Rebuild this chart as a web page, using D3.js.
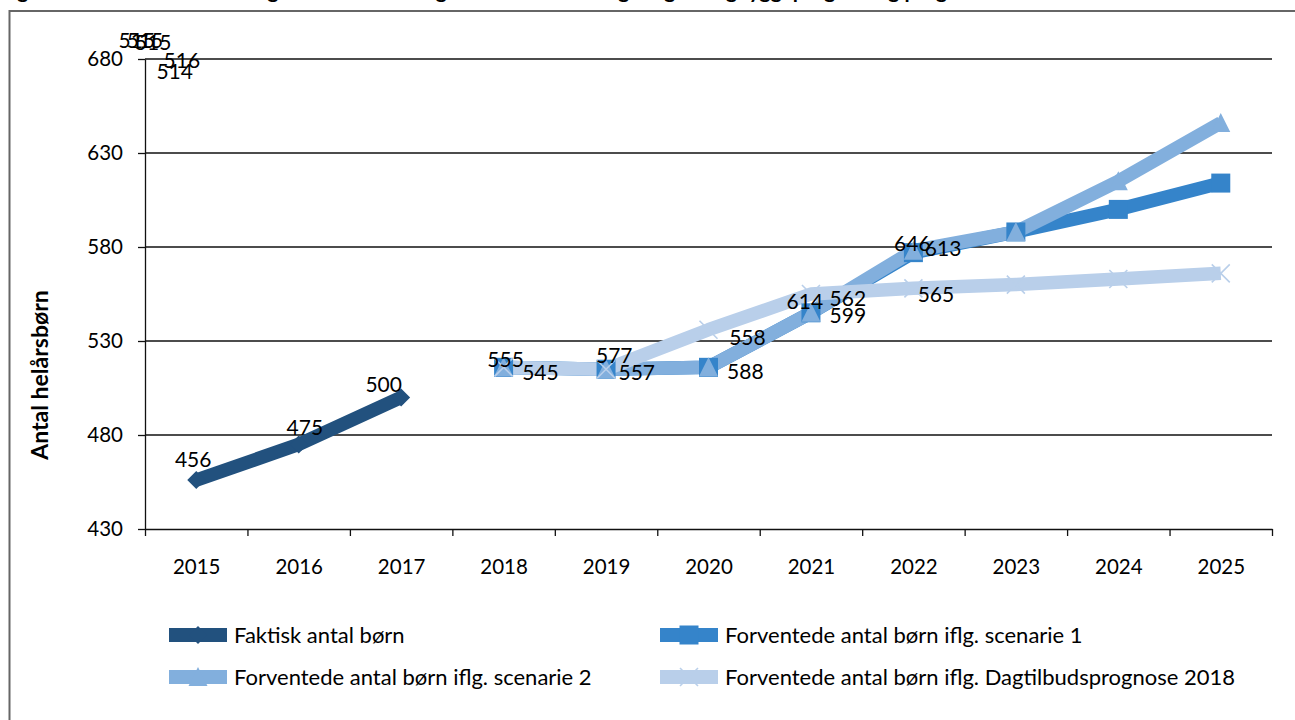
<!DOCTYPE html>
<html>
<head>
<meta charset="utf-8">
<script src="https://cdn.jsdelivr.net/npm/d3@7"></script>
<style>
	body { margin: 0; background: #fff; }
	svg { display: block; font-family: Lato, 'Open Sans', sans-serif; }
</style>
</head>
<body>
<script>
// data
var years = [2015, 2016, 2017, 2018, 2019, 2020, 2021, 2022, 2023, 2024, 2025];
var faktisk   = [456, 475, 500, null, null, null, null, null, null, null, null];
var scenarie1 = [null, null, null, 516, 515, 516, 545, 577, 588, 600, 614];
var scenarie2 = [null, null, null, 516, 515, 516, 545, 578, 588, 615, 646];
var dagtilbud = [null, null, null, 516, 515, 536, 555, 558, 560, 563, 566];
var yTicks = [430, 480, 530, 580, 630, 680];

// the data labels sit where the original chart left them (year, value units)
var labelText  = ['515', '515', '515', '516', '514', '456', '475', '500', '555', '545', '577', '557',
	'558', '588', '614', '562', '599', '646', '613', '565'];
var labelYear  = [2014.42, 2014.5, 2014.58, 2014.86, 2014.79, 2014.97, 2016.06, 2016.83, 2018.02, 2018.36,
	2019.08, 2019.3, 2020.38, 2020.36, 2020.94, 2021.36, 2021.36, 2021.99, 2022.29, 2022.22];
var labelValue = [689.5, 689.5, 688.5, 679, 673.5, 466.7, 483.7, 506.6, 519.9, 513, 522, 513,
	532, 513.5, 550.7, 552.3, 543.3, 582, 579, 554.5];

var seriesNames = ['Faktisk antal børn', 'Forventede antal børn iflg. scenarie 1',
	'Forventede antal børn iflg. scenarie 2', 'Forventede antal børn iflg. Dagtilbudsprognose 2018'];

var series = [
	{name: seriesNames[0], values: faktisk, color: '#22517e', marker: 'diamond'},
	{name: seriesNames[1], values: scenarie1, color: '#3584ca', marker: 'square'},
	{name: seriesNames[2], values: scenarie2, color: '#82afdd', marker: 'triangle'},
	{name: seriesNames[3], values: dagtilbud, color: '#b9cfea', marker: 'cross'}
];

var W = 1295, H = 720;
var plot = {left: 145, right: 1272, top: 59, bottom: 529};

var x = d3.scaleLinear().domain([2014.5, 2025.5]).range([plot.left, plot.right]),
	y = d3.scaleLinear().domain([430, 680]).range([plot.bottom, plot.top]);

var svg = d3.select('body').append('svg')
	.attr('width', W)
	.attr('height', H);

// title, cut off at the top of the picture
svg.append('text')
	.attr('x', 0)
	.attr('y', -2)
	.style('font-weight', 'bold')
	.style('font-size', '21px')
	.text('Figur 1: Antal helårsbørn i dagtilbud – faktisk og forventet udvikling ifølge boligbyggeprogram og prognose');

// frame
svg.append('rect')
	.attr('x', 9.5)
	.attr('y', 11)
	.attr('width', W + 50)
	.attr('height', H + 50)
	.style('fill', 'none')
	.style('stroke', '#666')
	.style('stroke-width', 2);

// gridlines
svg.append('g')
	.selectAll('line')
	.data(yTicks.slice(1))
	.enter().append('line')
		.attr('x1', plot.left)
		.attr('x2', plot.right)
		.attr('y1', function(d) { return y(d); })
		.attr('y2', function(d) { return y(d); })
		.style('stroke', '#111')
		.style('stroke-width', 1.3);

// y axis
var yAxis = svg.append('g')
	.attr('transform', 'translate(' + plot.left + ',0)')
	.call(d3.axisLeft(y).tickValues(yTicks).tickSize(7).tickPadding(15).tickSizeOuter(0));
yAxis.select('.domain').style('stroke', '#111').style('stroke-width', 1.3);
yAxis.selectAll('.tick line').style('stroke', '#111').style('stroke-width', 1.3);
yAxis.selectAll('text').style('font-size', '20.5px').style('font-family', 'Lato, sans-serif').attr('fill', '#000');

// x axis: ticks between categories, labels under them
var bounds = d3.range(2014.5, 2026, 1);
var xAxis = svg.append('g')
	.attr('transform', 'translate(0,' + plot.bottom + ')')
	.call(d3.axisBottom(x).tickValues(bounds).tickSize(7).tickFormat('').tickSizeOuter(0));
xAxis.select('.domain').style('stroke', '#111').style('stroke-width', 1.3);
xAxis.selectAll('.tick line').style('stroke', '#111').style('stroke-width', 1.3);

var xLabels = svg.append('g')
	.attr('transform', 'translate(0,' + plot.bottom + ')')
	.call(d3.axisBottom(x).tickValues(years).tickSize(0).tickPadding(30).tickFormat(d3.format('d')));
xLabels.select('.domain').remove();
xLabels.selectAll('text').style('font-size', '20.5px').style('font-family', 'Lato, sans-serif').attr('fill', '#000');

// y axis title
svg.append('text')
	.attr('transform', 'translate(48,375) rotate(-90)')
	.style('text-anchor', 'middle')
	.style('font-weight', 'bold')
	.style('font-size', '23px')
	.text('Antal helårsbørn');

// lines
var line = d3.line()
	.defined(function(d) { return d.v != null; })
	.x(function(d) { return x(d.year); })
	.y(function(d) { return y(d.v); });

function points(s) {
	return years.map(function(yr, i) { return {year: yr, v: s.values[i]}; });
}

var drawOrder = [series[1], series[2], series[3], series[0]];
drawOrder.forEach(function(s) {
	svg.append('path')
		.datum(points(s))
		.attr('d', line)
		.style('fill', 'none')
		.style('stroke', s.color)
		.style('stroke-width', 13.5)
		.style('stroke-linejoin', 'round');
});

function drawMarker(g, kind, cx, cy, color) {
	if (kind === 'diamond') {
		g.append('path')
			.attr('d', 'M' + cx + ',' + (cy - 9) + 'L' + (cx + 9) + ',' + cy + 'L' + cx + ',' + (cy + 9) + 'L' + (cx - 9) + ',' + cy + 'Z')
			.style('fill', color);
	} else if (kind === 'square') {
		g.append('rect')
			.attr('x', cx - 9.5).attr('y', cy - 9.5)
			.attr('width', 19).attr('height', 19)
			.style('fill', color);
	} else if (kind === 'triangle') {
		g.append('path')
			.attr('d', 'M' + cx + ',' + (cy - 10) + 'L' + (cx + 9.5) + ',' + (cy + 9) + 'L' + (cx - 9.5) + ',' + (cy + 9) + 'Z')
			.style('fill', color);
	} else {
		g.append('path')
			.attr('d', 'M' + (cx - 9) + ',' + (cy - 9) + 'L' + (cx + 9) + ',' + (cy + 9) + 'M' + (cx + 9) + ',' + (cy - 9) + 'L' + (cx - 9) + ',' + (cy + 9))
			.style('fill', 'none')
			.style('stroke', color)
			.style('stroke-width', 1.6);
	}
}

var markers = svg.append('g');
series.forEach(function(s) {
	points(s).forEach(function(p) {
		if (p.v == null) return;
		drawMarker(markers, s.marker, x(p.year), y(p.v), s.color);
	});
});

// data labels
svg.append('g')
	.selectAll('text')
	.data(labelText)
	.enter().append('text')
		.attr('x', function(d, i) { return x(labelYear[i]); })
		.attr('y', function(d, i) { return y(labelValue[i]); })
		.attr('dy', '0.35em')
		.style('text-anchor', 'middle')
		.style('font-size', '21px')
		.text(function(d) { return d; });

// legend
var legendX = [169, 660],
	legendY = [635, 677];

series.forEach(function(s, i) {
	var lx = legendX[i % 2], ly = legendY[Math.floor(i / 2)];
	var g = svg.append('g');
	g.append('line')
		.attr('x1', lx).attr('x2', lx + 58)
		.attr('y1', ly).attr('y2', ly)
		.style('stroke', s.color)
		.style('stroke-width', 14);
	drawMarker(g, s.marker, lx + 29, ly, s.color);
	g.append('text')
		.attr('x', lx + 65)
		.attr('y', ly)
		.attr('dy', '0.35em')
		.style('font-size', '22px')
		.text(s.name);
});
</script>
</body>
</html>
